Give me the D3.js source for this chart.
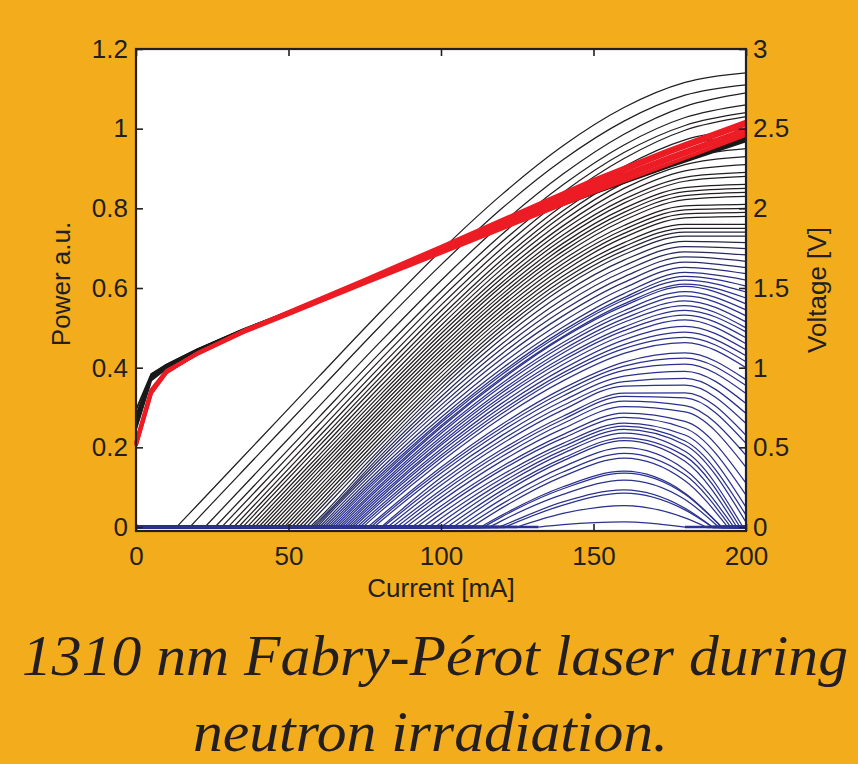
<!DOCTYPE html>
<html>
<head>
<meta charset="utf-8">
<script src="https://cdn.jsdelivr.net/npm/d3@7"></script>
<style>
  html, body { margin: 0; padding: 0; background: #F2AC1C; }
  svg { display: block; }
</style>
</head>
<body>
<svg id="chart" width="858" height="764"></svg>
<script>
// Currents (mA) at which the light-current powers are listed
const GRID_MA = [20, 40, 60, 80, 100, 120, 140, 160, 180, 200];

// Early fluence steps: lasing threshold (mA) and power (a.u.) at each grid current above threshold
const EARLY_ON = [13.3, 17.7, 22.6, 25.9, 28.1, 30.2, 32.0, 33.6, 35.0, 36.4, 37.8, 39.0, 40.2,
                  41.4, 42.6, 43.8, 45.0, 46.2, 47.4, 48.6, 49.8, 51.0, 52.2, 53.4, 54.6, 55.8];
const EARLY_P = [
  [0.054, 0.216, 0.378, 0.539, 0.694, 0.835, 0.957, 1.053, 1.116, 1.14],
  [0.019, 0.181, 0.343, 0.504, 0.658, 0.800, 0.922, 1.019, 1.084, 1.11],
  [0.141, 0.303, 0.464, 0.619, 0.762, 0.886, 0.986, 1.056, 1.09],
  [0.114, 0.276, 0.437, 0.592, 0.735, 0.859, 0.959, 1.028, 1.06],
  [0.096, 0.258, 0.419, 0.574, 0.716, 0.840, 0.940, 1.008, 1.04],
  [0.079, 0.241, 0.402, 0.557, 0.700, 0.825, 0.925, 0.996, 1.03],
  [0.065, 0.227, 0.388, 0.543, 0.685, 0.808, 0.905, 0.972, 1.00],
  [0.052, 0.214, 0.375, 0.529, 0.671, 0.794, 0.892, 0.957, 0.985],
  [0.041, 0.203, 0.364, 0.518, 0.660, 0.782, 0.879, 0.944, 0.97],
  [0.029, 0.191, 0.352, 0.506, 0.648, 0.769, 0.864, 0.927, 0.95],
  [0.018, 0.180, 0.341, 0.495, 0.636, 0.756, 0.850, 0.910, 0.93],
  [0.008, 0.170, 0.331, 0.485, 0.625, 0.745, 0.836, 0.894, 0.91],
  [0.160, 0.321, 0.475, 0.614, 0.733, 0.823, 0.878, 0.89],
  [0.151, 0.312, 0.465, 0.605, 0.723, 0.813, 0.868, 0.88],
  [0.141, 0.302, 0.455, 0.594, 0.712, 0.800, 0.852, 0.86],
  [0.131, 0.292, 0.445, 0.584, 0.702, 0.790, 0.842, 0.85],
  [0.122, 0.283, 0.436, 0.575, 0.692, 0.780, 0.832, 0.84],
  [0.112, 0.273, 0.426, 0.565, 0.682, 0.770, 0.822, 0.83],
  [0.102, 0.263, 0.416, 0.555, 0.671, 0.757, 0.806, 0.81],
  [0.092, 0.253, 0.406, 0.545, 0.661, 0.747, 0.796, 0.80],
  [0.083, 0.244, 0.397, 0.535, 0.651, 0.737, 0.786, 0.79],
  [0.073, 0.234, 0.387, 0.525, 0.641, 0.727, 0.776, 0.78],
  [0.063, 0.224, 0.377, 0.515, 0.630, 0.714, 0.760, 0.76],
  [0.053, 0.214, 0.367, 0.505, 0.620, 0.704, 0.750, 0.75],
  [0.044, 0.205, 0.358, 0.495, 0.610, 0.694, 0.740, 0.74],
  [0.034, 0.195, 0.348, 0.485, 0.600, 0.684, 0.730, 0.73]
];

// Later fluence steps: threshold (mA), current where output falls back to zero
// (null = still lasing at 200 mA) and power at each grid current in between
const LATE_ON = [57, 57.8, 58.6, 59.4, 60.2, 61, 61.8, 62.6, 63.4, 64.2, 65, 65.8, 66.6, 67.4,
                 68.2, 69, 69.8, 70.6, 71.4, 72.4, 73.4, 74.4, 76, 77, 78, 80.4, 81, 82.5, 84,
                 85.5, 87, 88.5, 90.5, 92, 94, 96, 98, 100, 102, 104, 106, 108, 110, 113, 114,
                 116, 119, 121, 125, 132];
const LATE_OFF = [null, null, null, null, null, null, null, null, null, null, null, null, null,
                  null, null, null, null, null, null, null, null, null, null, null, null, null,
                  null, null, null, null, null, null, null, null, null, null, null,
                  199, 198, 197, 196, 195, 194, 192, 192, 191, 189, 189, 187, 180];
const LATE_P = [
  [0.022, 0.187, 0.338, 0.473, 0.586, 0.670, 0.717, 0.714],
  [0.016, 0.178, 0.327, 0.460, 0.572, 0.656, 0.704, 0.699],
  [0.011, 0.170, 0.317, 0.448, 0.558, 0.642, 0.691, 0.683],
  [0.005, 0.162, 0.306, 0.435, 0.544, 0.628, 0.678, 0.667],
  [0.154, 0.296, 0.423, 0.530, 0.614, 0.665, 0.651],
  [0.145, 0.285, 0.410, 0.516, 0.600, 0.652, 0.636],
  [0.137, 0.275, 0.398, 0.502, 0.586, 0.639, 0.62],
  [0.130, 0.267, 0.389, 0.493, 0.576, 0.629, 0.605],
  [0.124, 0.262, 0.383, 0.487, 0.570, 0.620, 0.59],
  [0.117, 0.254, 0.375, 0.478, 0.560, 0.610, 0.575],
  [0.112, 0.250, 0.371, 0.475, 0.555, 0.604, 0.56],
  [0.105, 0.241, 0.361, 0.463, 0.543, 0.591, 0.545],
  [0.099, 0.235, 0.354, 0.455, 0.534, 0.580, 0.53],
  [0.092, 0.226, 0.344, 0.445, 0.523, 0.568, 0.515],
  [0.086, 0.219, 0.337, 0.437, 0.514, 0.556, 0.50],
  [0.079, 0.211, 0.328, 0.426, 0.502, 0.544, 0.49],
  [0.073, 0.205, 0.321, 0.418, 0.493, 0.532, 0.475],
  [0.066, 0.196, 0.311, 0.408, 0.482, 0.520, 0.46],
  [0.060, 0.189, 0.302, 0.397, 0.470, 0.504, 0.445],
  [0.052, 0.180, 0.293, 0.387, 0.458, 0.489, 0.43],
  [0.045, 0.173, 0.285, 0.379, 0.448, 0.476, 0.415],
  [0.038, 0.164, 0.275, 0.367, 0.436, 0.463, 0.40],
  [0.026, 0.150, 0.258, 0.348, 0.414, 0.437, 0.37],
  [0.020, 0.143, 0.250, 0.339, 0.404, 0.424, 0.355],
  [0.013, 0.135, 0.241, 0.329, 0.393, 0.409, 0.335],
  [0.124, 0.230, 0.317, 0.379, 0.391, 0.31],
  [0.114, 0.219, 0.305, 0.365, 0.373, 0.285],
  [0.105, 0.209, 0.294, 0.354, 0.356, 0.26],
  [0.093, 0.195, 0.278, 0.336, 0.337, 0.23],
  [0.085, 0.187, 0.270, 0.328, 0.324, 0.21],
  [0.075, 0.177, 0.260, 0.316, 0.305, 0.18],
  [0.065, 0.166, 0.247, 0.302, 0.289, 0.15],
  [0.053, 0.152, 0.232, 0.286, 0.265, 0.11],
  [0.044, 0.144, 0.223, 0.275, 0.248, 0.08],
  [0.033, 0.131, 0.210, 0.261, 0.231, 0.05],
  [0.022, 0.122, 0.202, 0.253, 0.216, 0.03],
  [0.011, 0.112, 0.193, 0.245, 0.206, 0.012],
  [0.103, 0.185, 0.236, 0.190],
  [0.092, 0.173, 0.224, 0.178],
  [0.083, 0.166, 0.217, 0.165],
  [0.070, 0.151, 0.199, 0.144],
  [0.058, 0.138, 0.185, 0.131],
  [0.048, 0.127, 0.173, 0.116],
  [0.030, 0.101, 0.140, 0.085],
  [0.026, 0.096, 0.135, 0.082],
  [0.016, 0.082, 0.118, 0.069],
  [0.003, 0.063, 0.093, 0.047],
  [0.055, 0.085, 0.043],
  [0.034, 0.054, 0.023],
  [0.006, 0.013]
];

// Forward voltage (V) against current (mA)
const V_MA = [0, 5, 10, 20, 35, 50, 75, 100, 125, 150, 175, 200];
const V_EARLY = [
  [0.735, 0.960, 1.020, 1.115, 1.240, 1.352, 1.545, 1.733, 1.915, 2.090, 2.260, 2.420],
  [0.700, 0.955, 1.018, 1.113, 1.238, 1.351, 1.545, 1.734, 1.917, 2.093, 2.264, 2.425],
  [0.685, 0.950, 1.015, 1.112, 1.237, 1.350, 1.545, 1.735, 1.918, 2.095, 2.267, 2.430],
  [0.670, 0.945, 1.012, 1.110, 1.236, 1.350, 1.545, 1.735, 1.920, 2.097, 2.270, 2.435],
  [0.655, 0.940, 1.008, 1.108, 1.235, 1.349, 1.545, 1.736, 1.921, 2.099, 2.273, 2.440],
  [0.640, 0.935, 1.005, 1.106, 1.234, 1.348, 1.545, 1.737, 1.923, 2.101, 2.276, 2.445],
  [0.625, 0.930, 1.000, 1.104, 1.232, 1.347, 1.544, 1.737, 1.925, 2.104, 2.280, 2.450],
  [0.610, 0.920, 0.995, 1.100, 1.230, 1.346, 1.543, 1.738, 1.927, 2.107, 2.284, 2.455]
];
const V_LATE = [
  [0.530, 0.860, 0.980, 1.085, 1.220, 1.335, 1.530, 1.720, 1.910, 2.100, 2.280, 2.460],
  [0.525, 0.855, 0.978, 1.087, 1.223, 1.340, 1.537, 1.730, 1.925, 2.120, 2.305, 2.480],
  [0.520, 0.850, 0.975, 1.088, 1.225, 1.343, 1.542, 1.740, 1.940, 2.140, 2.325, 2.500],
  [0.515, 0.845, 0.972, 1.089, 1.227, 1.347, 1.548, 1.750, 1.955, 2.160, 2.350, 2.525],
  [0.510, 0.840, 0.970, 1.090, 1.230, 1.350, 1.553, 1.760, 1.970, 2.180, 2.370, 2.545]
];

const X_TICKS = [0, 50, 100, 150, 200];
const P_TICKS = [0, 0.2, 0.4, 0.6, 0.8, 1, 1.2];
const V_TICKS = [0, 0.5, 1, 1.5, 2, 2.5, 3];

const INK = "#231f20";
const AXIS_FONT = "'Liberation Sans', Arial, Helvetica, sans-serif";

const svg = d3.select("#chart");
const box = { left: 136, right: 746, top: 49, bottom: 531 };

const x = d3.scaleLinear().domain([0, 200]).range([box.left, box.right]);
const yP = d3.scaleLinear().domain([-0.01, 1.2]).range([box.bottom, box.top]);
const yV = d3.scaleLinear().domain([-0.025, 3]).range([box.bottom, box.top]);

// page background and plot area
svg.append("rect").attr("width", 858).attr("height", 764).attr("fill", "#F2AC1C");
svg.append("rect")
  .attr("x", box.left).attr("y", box.top)
  .attr("width", box.right - box.left).attr("height", box.bottom - box.top)
  .attr("fill", "#ffffff");

// colour runs from black (early steps) through navy to blue (late steps)
const nEarly = EARLY_ON.length;
const colour = d3.scaleLinear()
  .domain([0, 22, 27, 34, nEarly + LATE_ON.length])
  .range(["#231f20", "#231f20", "#262955", "#2b318e", "#2b318e"])
  .interpolate(d3.interpolateRgb);

// assemble every L-I curve: lasing part plus the zero-output stretches
function buildCurve(on, off, values) {
  const pts = [[on, 0]];
  const grid = GRID_MA.filter(g => g > on && (off === null || g < off));
  values.forEach((v, i) => { if (i < grid.length) pts.push([grid[i], v]); });
  if (off !== null) pts.push([off, 0]);
  const flat = [[[0, 0], [on, 0]]];
  if (off !== null) flat.push([[off, 0], [200, 0]]);
  return { pts, flat };
}

const curves = [];
EARLY_ON.forEach((on, k) => curves.push({ ...buildCurve(on, null, EARLY_P[k]), idx: k }));
LATE_ON.forEach((on, j) => curves.push({ ...buildCurve(on, LATE_OFF[j], LATE_P[j]), idx: nEarly + j }));

const lasing = d3.line().x(d => x(d[0])).y(d => yP(d[1])).curve(d3.curveMonotoneX);
const straight = d3.line().x(d => x(d[0])).y(d => yP(d[1]));

const liLayer = svg.append("g").attr("fill", "none");
curves.forEach(c => {
  const col = colour(c.idx);
  c.flat.forEach(seg => {
    liLayer.append("path").attr("d", straight(seg))
      .attr("stroke", col).attr("stroke-width", 2.6);
  });
  liLayer.append("path").attr("d", lasing(c.pts))
    .attr("stroke", col).attr("stroke-width", 1.25)
    .attr("stroke-linejoin", "round");
});

// voltage curves (right axis): earlier steps in black, final steps in red on top
const vLine = d3.line().x((d, i) => x(V_MA[i])).y(d => yV(d));
const vLayer = svg.append("g").attr("fill", "none").attr("stroke-linejoin", "round");
V_EARLY.forEach(v => vLayer.append("path").attr("d", vLine(v))
  .attr("stroke", "#1a1a1a").attr("stroke-width", 1.8));
V_LATE.forEach(v => vLayer.append("path").attr("d", vLine(v))
  .attr("stroke", "#ED1C24").attr("stroke-width", 3.6));

// axes with inward ticks on all four sides
function styleAxis(g) {
  g.select(".domain").remove();
  g.selectAll(".tick line").attr("stroke", INK).attr("stroke-width", 1.6);
  g.selectAll(".tick text").attr("fill", INK)
    .attr("font-family", AXIS_FONT).attr("font-size", 26);
}
const fmt = d => String(d);

svg.append("g").attr("transform", `translate(${box.left},0)`)
  .call(d3.axisLeft(yP).tickValues(P_TICKS).tickFormat(fmt).tickSizeInner(-7).tickSizeOuter(0).tickPadding(8))
  .call(styleAxis);
svg.append("g").attr("transform", `translate(${box.right},0)`)
  .call(d3.axisRight(yV).tickValues(V_TICKS).tickFormat(fmt).tickSizeInner(-7).tickSizeOuter(0).tickPadding(7))
  .call(styleAxis);
svg.append("g").attr("transform", `translate(0,${box.bottom})`)
  .call(d3.axisBottom(x).tickValues(X_TICKS).tickFormat(fmt).tickSizeInner(-7).tickSizeOuter(0).tickPadding(16))
  .call(styleAxis);
svg.append("g").attr("transform", `translate(0,${box.top})`)
  .call(d3.axisTop(x).tickValues(X_TICKS).tickFormat("").tickSizeInner(-7).tickSizeOuter(0))
  .call(styleAxis);

// plot frame
svg.append("rect")
  .attr("x", box.left).attr("y", box.top)
  .attr("width", box.right - box.left).attr("height", box.bottom - box.top)
  .attr("fill", "none").attr("stroke", INK).attr("stroke-width", 2.2);

// axis titles
svg.append("text").attr("transform", "translate(70,284) rotate(-90)")
  .attr("text-anchor", "middle").attr("font-family", AXIS_FONT).attr("font-size", 26)
  .attr("fill", INK).text("Power a.u.");
svg.append("text").attr("transform", "translate(826,290) rotate(-90)")
  .attr("text-anchor", "middle").attr("font-family", AXIS_FONT).attr("font-size", 26)
  .attr("fill", INK).text("Voltage [V]");
svg.append("text").attr("x", 441).attr("y", 597)
  .attr("text-anchor", "middle").attr("font-family", AXIS_FONT).attr("font-size", 26)
  .attr("fill", INK).text("Current [mA]");

// caption
const CAPTION = ["1310 nm Fabry-Pérot laser during", "neutron irradiation."];
const capFont = "'Liberation Serif', 'DejaVu Serif', serif";
svg.append("text").attr("x", 22).attr("y", 675)
  .attr("font-family", capFont).attr("font-style", "italic").attr("font-size", 57)
  .attr("fill", INK).attr("textLength", 826).attr("lengthAdjust", "spacingAndGlyphs")
  .text(CAPTION[0]);
svg.append("text").attr("x", 193).attr("y", 751)
  .attr("font-family", capFont).attr("font-style", "italic").attr("font-size", 57)
  .attr("fill", INK).attr("textLength", 475).attr("lengthAdjust", "spacingAndGlyphs")
  .text(CAPTION[1]);
</script>
</body>
</html>
